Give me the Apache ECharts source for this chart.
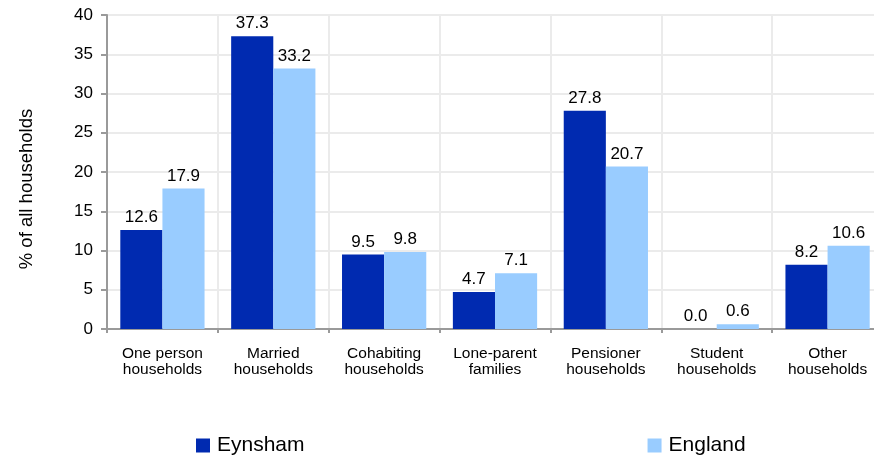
<!DOCTYPE html>
<html>
<head>
<meta charset="utf-8">
<script src="https://cdn.jsdelivr.net/npm/echarts@6/dist/echarts.min.js"></script>
<style>html,body{margin:0;padding:0;background:#fff}#c{width:874px;height:458px}</style>
</head>
<body>
<div id="c"></div>
<script>
const categories = ['One person\nhouseholds','Married\nhouseholds','Cohabiting\nhouseholds','Lone-parent\nfamilies','Pensioner\nhouseholds','Student\nhouseholds','Other\nhouseholds'];
const eynsham = [12.6, 37.3, 9.5, 4.7, 27.8, 0.0, 8.2];
const england = [17.9, 33.2, 9.8, 7.1, 20.7, 0.6, 10.6];
const yTicks = {min: 0, max: 40, interval: 5};

const font = '"Liberation Sans", Arial, sans-serif';
const chart = echarts.init(document.getElementById('c'), null, {renderer: 'canvas'});
const lbl = {show: true, position: 'top', distance: 4, color: '#000', fontSize: 17, fontFamily: font, formatter: p => p.value.toFixed(1)};
chart.setOption({
  animation: false,
  textStyle: {fontFamily: font},
  grid: {left: 107, top: 15, width: 776, height: 314, containLabel: false, outerBoundsMode: 'none'},
  legend: {
    left: 196, top: 435, padding: 0, itemWidth: 14, itemHeight: 14, itemGap: 343,
    icon: 'rect',
    textStyle: {fontSize: 21, color: '#000', fontFamily: font, padding: [0,0,0,2]},
    data: ['Eynsham', 'England']
  },
  xAxis: {
    type: 'category', data: categories,
    axisLine: {lineStyle: {color: '#9a9a9a', width: 2}},
    axisTick: {show: true, length: 4, lineStyle: {color: '#9a9a9a', width: 2}},
    splitLine: {show: true, lineStyle: {color: '#ebebeb', width: 2}},
    axisLabel: {color: '#000', fontSize: 15.5, lineHeight: 16, margin: 17, fontFamily: font, interval: 0}
  },
  yAxis: {
    type: 'value', min: yTicks.min, max: yTicks.max, interval: yTicks.interval,
    name: '% of all households', nameLocation: 'middle', nameGap: 71, nameRotate: 90,
    nameTextStyle: {color: '#000', fontSize: 18.5, fontFamily: font, padding: [0, 34, 0, 0]},
    axisLine: {show: true, lineStyle: {color: '#9a9a9a', width: 2}},
    axisTick: {show: true, length: 6, lineStyle: {color: '#9a9a9a', width: 2}},
    splitLine: {show: true, lineStyle: {color: '#ebebeb', width: 2}},
    axisLabel: {color: '#000', fontSize: 17, margin: 14, fontFamily: font}
  },
  series: [
    {name: 'Eynsham', type: 'bar', data: eynsham, barGap: '0%', barCategoryGap: '24%', itemStyle: {color: '#002AB0'}, label: lbl},
    {name: 'England', type: 'bar', data: england, barGap: '0%', barCategoryGap: '24%', itemStyle: {color: '#99CCFF'}, label: lbl}
  ]
});
</script>
</body>
</html>
